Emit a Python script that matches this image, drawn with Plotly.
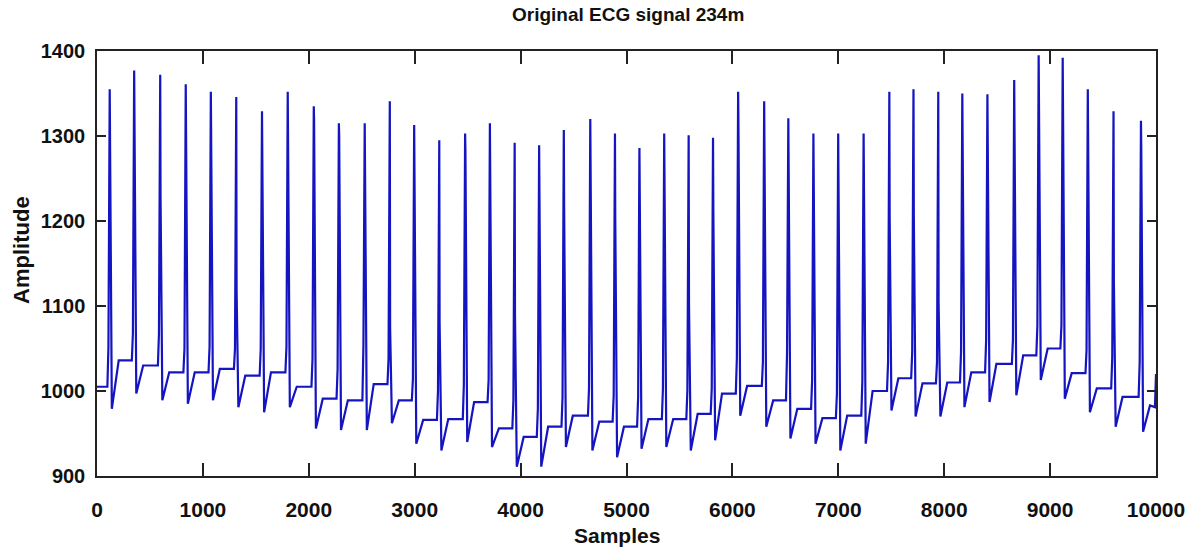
import plotly.graph_objects as go

# ---- data ----
# R-peak sample positions
r_pos = [120, 351, 597, 838, 1075, 1315, 1558, 1801, 2047, 2284,
         2528, 2765, 2995, 3232, 3476, 3710, 3944, 4175, 4408, 4658,
         4891, 5122, 5356, 5587, 5817, 6054, 6300, 6528, 6765, 6999,
         7239, 7482, 7710, 7944, 8171, 8408, 8661, 8892, 9119, 9356,
         9599, 9858]
# R-peak amplitudes
r_peak = [1355, 1377, 1372, 1361, 1352, 1346, 1329, 1352, 1335, 1315,
          1315, 1341, 1313, 1295, 1303, 1315, 1292, 1289, 1307, 1320,
          1303, 1286, 1303, 1301, 1298, 1352, 1341, 1321, 1303, 1303,
          1303, 1352, 1355, 1352, 1350, 1349, 1366, 1395, 1392, 1355,
          1329, 1318]
# intermediate level on the falling edge of the R wave (None = none visible)
r_step = [None, None, 1229, None, None, 1118, None, 1295, 1318, 1300,
          None, 1074, None, 1081, 1283, None, 1089, None, 1218, None,
          1203, None, None, 1104, 1213, 1315, 1253, None, None, None,
          None, 1204, 1207, 1104, None, 1289, None, None, None, 1295,
          1132, 1285]
# level of the small bump right before each R peak
pre_bump = [1052, 1068, 1067, 1050, 1052, 1050, 1050, 1052, 1038, 1026,
            1055, 1038, 1014, 1001, 1007, 1013, 989, 979, 993, 1003,
            995, 993, 1003, 1001, 1003, 1038, 1034, 1045, 1013, 997,
            1011, 1034, 1046, 1034, 1046, 1060, 1060, 1077, 1077, 1048,
            1040, 1034]
# minimum right after each R peak
trough = [979, 997, 989, 985, 989, 981, 975, 981, 956, 954,
          954, 962, 938, 930, 940, 934, 911, 911, 934, 930,
          922, 932, 934, 930, 942, 971, 958, 944, 938, 930,
          938, 977, 970, 970, 981, 987, 995, 1013, 991, 975,
          958, 952]
# plateau level between beats
plateau = [1036, 1030, 1022, 1022, 1026, 1018, 1022, 1005, 991, 989,
           1008, 989, 966, 967, 987, 956, 946, 958, 971, 964,
           958, 967, 967, 973, 997, 1006, 989, 979, 968, 971,
           1000, 1015, 1009, 1010, 1022, 1032, 1042, 1050, 1021, 1003,
           993, 983]
start_level = 1005
end_x = [9990, 10000]
end_y = [981, 1020]

x_ticks = [0, 1000, 2000, 3000, 4000, 5000, 6000, 7000, 8000, 9000, 10000]
y_ticks = [900, 1000, 1100, 1200, 1300, 1400]

# ---- build the polyline from the beat table ----
xs, ys = [0], [start_level]
prev = start_level
for i, r in enumerate(r_pos):
    xs += [r - 22, r - 12, r]
    ys += [prev, pre_bump[i], r_peak[i]]
    if r_step[i] is not None:
        xs.append(r + 3)
        ys.append(r_step[i])
    xs += [r + 20, r + 85]
    ys += [trough[i], plateau[i]]
    prev = plateau[i]
xs += end_x
ys += end_y

FONT = "Liberation Sans, Arial, sans-serif"
INK = "#111111"

fig = go.Figure()
fig.add_trace(go.Scatter(x=xs, y=ys, mode="lines",
                         line=dict(color="#1414c0", width=2.2),
                         hoverinfo="skip", showlegend=False))

fig.update_layout(
    width=1199, height=552,
    margin=dict(l=97, r=43, t=51, b=76, autoexpand=False),
    paper_bgcolor="white", plot_bgcolor="white",
    font=dict(family=FONT, color=INK),
    annotations=[
        dict(text="Original ECG signal 234m", xref="paper", yref="paper",
             x=0.501, y=1.085, xanchor="center", yanchor="middle",
             showarrow=False,
             font=dict(family=FONT, size=19, color=INK, weight="bold")),
        dict(text="Samples", xref="paper", yref="paper",
             x=0.491, y=-0.141, xanchor="center", yanchor="middle",
             showarrow=False,
             font=dict(family=FONT, size=21, color=INK, weight="bold")),
        dict(text="Amplitude", xref="paper", yref="paper",
             x=-0.0708, y=0.532, xanchor="center", yanchor="middle",
             textangle=-90, showarrow=False,
             font=dict(family=FONT, size=22, color=INK, weight="bold")),
    ],
)
fig.update_xaxes(
    range=[0, 10000], tickvals=x_ticks, ticktext=[str(v) for v in x_ticks],
    showgrid=False, zeroline=False, automargin=False,
    showline=True, linecolor="#222222", linewidth=1.5, mirror="allticks",
    ticks="inside", ticklen=13, tickcolor="#222222", tickwidth=1.5,
    tickfont=dict(family=FONT, size=21, color=INK, weight="bold"),
    ticklabelstandoff=14,
)
fig.update_yaxes(
    range=[900, 1400], tickvals=y_ticks, ticktext=[str(v) for v in y_ticks],
    showgrid=False, zeroline=False, automargin=False,
    showline=True, linecolor="#222222", linewidth=1.5, mirror="allticks",
    ticks="inside", ticklen=9, tickcolor="#222222", tickwidth=1.5,
    tickfont=dict(family=FONT, size=20, color=INK, weight="bold"),
    ticklabelstandoff=6,
)

fig.write_html("out.html",
               config={"displayModeBar": False},
               post_script="document.body.style.margin='0px';"
                           "document.body.style.overflow='hidden';")
